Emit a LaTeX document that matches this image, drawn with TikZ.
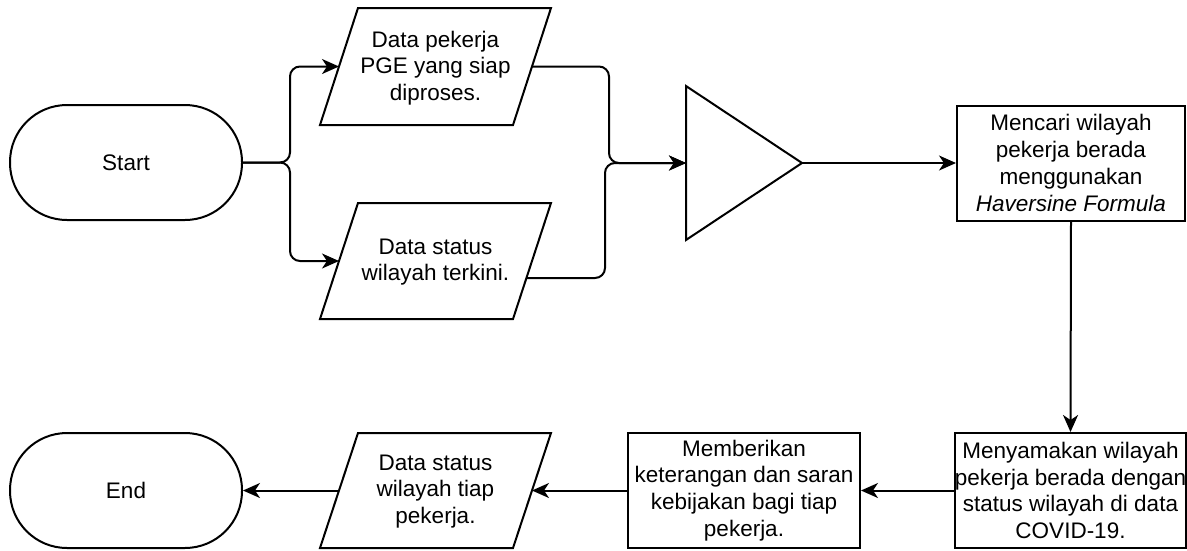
\documentclass[tikz,border=0pt]{standalone}
\usepackage{fontspec}
\setmainfont{Liberation Sans}
\usetikzlibrary{arrows.meta}
\begin{document}
\begin{tikzpicture}[x=1pt,y=-1pt,line width=2pt,
  txt/.style={font=\fontsize{22.5}{26.8}\selectfont,align=center,inner sep=0pt},
  term/.style={draw,rounded corners=57pt,minimum width=232pt,minimum height=115pt,txt},
  proc/.style={draw,minimum height=115pt,txt},
  shp/.style={draw,line join=miter},
  arr/.style={-{Stealth[length=17pt,width=15pt,inset=5pt]},rounded corners=10pt}]
\useasboundingbox (0,0) rectangle (1187,550);

% terminators
\node[term] (start) at (126,162.5) {Start};
\node[term] (end) at (126,490.5) {End};

% data (parallelograms)
\draw[shp] (358,8) -- (551,8) -- (513,125) -- (320,125) -- cycle;
\node[txt] (d1) at (435.5,68) {Data pekerja\\PGE yang siap\\diproses.};
\coordinate (d1w) at (339,66.5);
\coordinate (d1e) at (532,66.5);

\draw[shp] (358,203) -- (551,203) -- (513,319) -- (320,319) -- cycle;
\node[txt] (d2) at (435.5,262) {Data status\\wilayah terkini.};
\coordinate (d2w) at (339,261);
\coordinate (d2e) at (526,278);

\draw[shp] (358,433) -- (551,433) -- (513,548) -- (320,548) -- cycle;
\node[txt] (d3) at (435.5,491.5) {Data status\\wilayah tiap\\pekerja.};
\coordinate (d3w) at (339,490.5);
\coordinate (d3e) at (532,490.5);

% merge triangle
\draw[shp] (686,86) -- (802,163) -- (686,240) -- cycle;
\coordinate (triw) at (686,163);
\coordinate (trie) at (802,163);

% processes
\node[proc,minimum width=228pt] (p1) at (1071,163) {Mencari wilayah\\pekerja berada\\menggunakan\\\textit{Haversine Formula}};
\node[proc,minimum width=229pt] (p2) at (1070.5,490.5) {Menyamakan wilayah\\pekerja berada dengan\\status wilayah di data\\COVID-19.};
\node[proc,minimum width=232pt] (p3) at (744,490.5) {Memberikan\\keterangan dan saran\\kebijakan bagi tiap\\pekerja.};

% junction helpers
\coordinate (s) at (290,0);
\coordinate (ma) at (609,163);
\coordinate (mb) at (605,163);

% connectors
\draw[arr] (start.east) -- (start.east -| s) |- (d1w);
\draw[arr] (start.east) -- (start.east -| s) |- (d2w);
\draw[arr] (d1e) -| (ma) -- (triw);
\draw[arr] (d2e) -| (mb) -- (triw);
\draw[arr] (trie) -- (p1.west);
\draw[arr] (p1.south) -- (p2.north);
\draw[arr] (p2.west) -- (p3.east);
\draw[arr] (p3.west) -- (d3e);
\draw[arr] (d3w) -- (end.east);
\end{tikzpicture}
\end{document}
